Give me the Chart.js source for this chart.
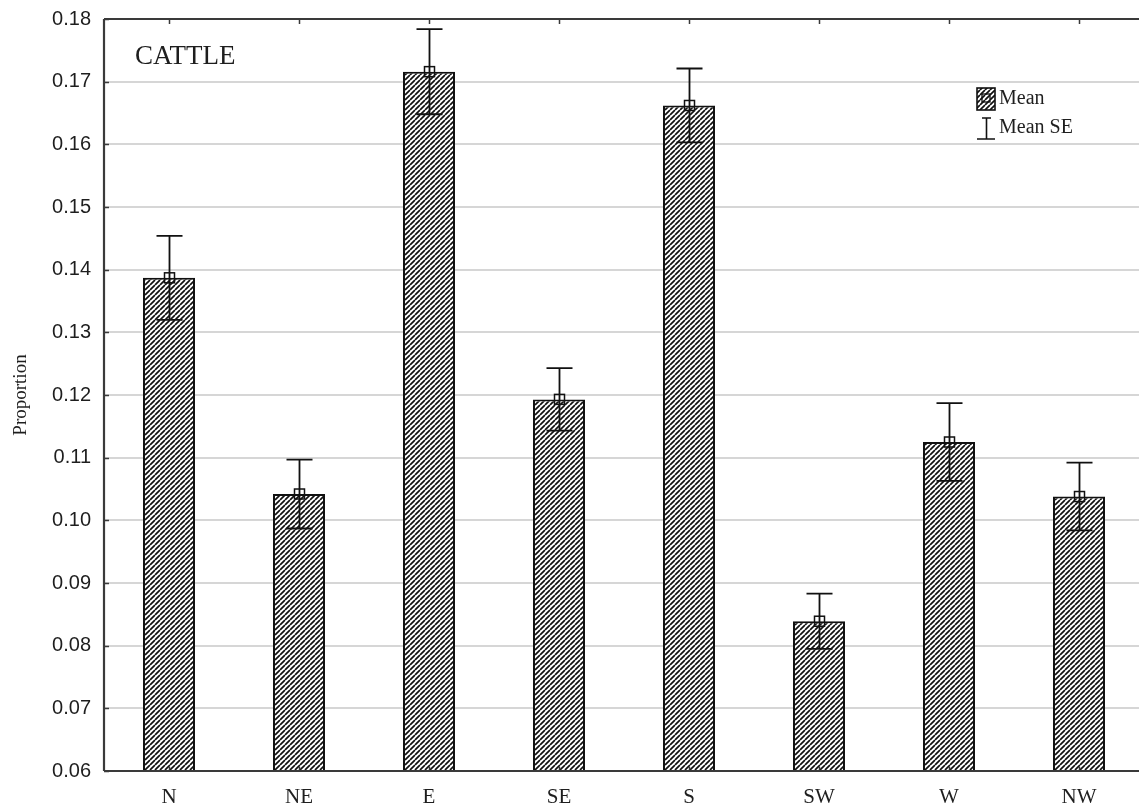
<!DOCTYPE html>
<html>
<head>
<meta charset="utf-8">
<title>CATTLE – Proportion by direction</title>
<script src="https://cdn.jsdelivr.net/npm/chart.js@4/dist/chart.umd.min.js"></script>
<style>
  html, body { margin: 0; padding: 0; background: #fff; overflow: hidden; }
  #wrap { position: absolute; left: 0; top: 0; width: 1150px; height: 809px; }
</style>
</head>
<body>
<div id="wrap"><canvas id="chart" width="1150" height="809"></canvas></div>
<script>
// Directions and mean proportions with their standard errors
const categories = ['N', 'NE', 'E', 'SE', 'S', 'SW', 'W', 'NW'];
const meanValues = [0.1387, 0.1042, 0.1716, 0.1193, 0.1662, 0.0839, 0.1125, 0.1038];
const seValues   = [0.0067, 0.0055, 0.0068, 0.0050, 0.0059, 0.0044, 0.0062, 0.0054];
const yTickValues = [0.06, 0.07, 0.08, 0.09, 0.10, 0.11, 0.12, 0.13, 0.14, 0.15, 0.16, 0.17, 0.18];

const SERIF = '"Liberation Serif", "Times New Roman", serif';
const SANS = '"Liberation Sans", Arial, sans-serif';
const INK = '#1e1e1e';
const FRAME = '#3a3a3a';

// Diagonal hatch fill for the bars
function makeHatch(size, lineW) {
  const c = document.createElement('canvas');
  c.width = size; c.height = size;
  const g = c.getContext('2d');
  g.fillStyle = '#ffffff';
  g.fillRect(0, 0, size, size);
  g.strokeStyle = '#111';
  g.lineWidth = lineW;
  g.beginPath();
  for (let k = -1; k <= 1; k++) {
    g.moveTo(k * size, size);
    g.lineTo(k * size + size, 0);
  }
  g.stroke();
  return g.createPattern(c, 'repeat');
}
const hatch = makeHatch(5, 1.7);

// Frame, inward tick marks, error bars, mean markers, title and legend
const decorations = {
  id: 'decorations',
  afterDatasetsDraw(chart) {
    const ctx = chart.ctx;
    const a = chart.chartArea;
    const xs = chart.scales.x, ys = chart.scales.y;
    ctx.save();

    // error bars and mean markers
    ctx.strokeStyle = '#111';
    meanValues.forEach((m, i) => {
      const x = Math.round(xs.getPixelForValue(i)) + 0.5;
      const yHi = ys.getPixelForValue(m + seValues[i]);
      const yLo = ys.getPixelForValue(m - seValues[i]);
      const yM = ys.getPixelForValue(m);
      const cap = 13;
      ctx.lineWidth = 1.8;
      ctx.beginPath();
      ctx.moveTo(x, yHi); ctx.lineTo(x, yLo);
      ctx.moveTo(x - cap, yHi); ctx.lineTo(x + cap, yHi);
      ctx.moveTo(x - cap, yLo); ctx.lineTo(x + cap, yLo);
      ctx.stroke();
      ctx.lineWidth = 1.5;
      ctx.strokeRect(x - 5, yM - 5, 10, 10);
    });

    // plot frame
    ctx.strokeStyle = FRAME;
    ctx.lineWidth = 2.2;
    ctx.beginPath();
    ctx.moveTo(a.left, a.top); ctx.lineTo(a.right, a.top);
    ctx.moveTo(a.left, a.top); ctx.lineTo(a.left, a.bottom);
    ctx.moveTo(a.left, a.bottom); ctx.lineTo(a.right, a.bottom);
    ctx.moveTo(a.right, a.top); ctx.lineTo(a.right, a.bottom);
    ctx.stroke();

    // inward ticks
    ctx.lineWidth = 1.5;
    ctx.beginPath();
    yTickValues.forEach(v => {
      const y = Math.round(ys.getPixelForValue(v)) + 0.5;
      ctx.moveTo(a.left, y); ctx.lineTo(a.left + 5, y);
    });
    categories.forEach((c, i) => {
      const x = Math.round(xs.getPixelForValue(i)) + 0.5;
      ctx.moveTo(x, a.top); ctx.lineTo(x, a.top + 5);
      ctx.moveTo(x, a.bottom); ctx.lineTo(x, a.bottom - 4);
    });
    ctx.stroke();

    // panel title
    ctx.fillStyle = INK;
    ctx.font = '27px ' + SERIF;
    ctx.textBaseline = 'alphabetic';
    ctx.textAlign = 'left';
    ctx.fillText('CATTLE', a.left + 31, a.top + 45);

    // legend
    const lx = 977, ly = 88;
    ctx.fillStyle = hatch;
    ctx.fillRect(lx, ly, 18, 22);
    ctx.strokeStyle = '#111';
    ctx.lineWidth = 1.6;
    ctx.strokeRect(lx, ly, 18, 22);
    ctx.lineWidth = 1.3;
    ctx.strokeRect(lx + 5, ly + 6, 8, 8);

    ctx.lineWidth = 1.6;
    ctx.beginPath();
    ctx.moveTo(lx + 9.5, ly + 30); ctx.lineTo(lx + 9.5, ly + 51);
    ctx.moveTo(lx + 5, ly + 30); ctx.lineTo(lx + 14, ly + 30);
    ctx.moveTo(lx, ly + 51); ctx.lineTo(lx + 18, ly + 51);
    ctx.stroke();

    ctx.fillStyle = INK;
    ctx.font = '20px ' + SERIF;
    ctx.textBaseline = 'middle';
    ctx.fillText('Mean', lx + 22, ly + 11);
    ctx.fillText('Mean SE', lx + 22, ly + 40);

    ctx.restore();
  }
};

new Chart(document.getElementById('chart'), {
  type: 'bar',
  data: {
    labels: categories,
    datasets: [{
      label: 'Mean',
      data: meanValues,
      backgroundColor: hatch,
      borderColor: '#111',
      borderWidth: 2,
      borderSkipped: false,
      categoryPercentage: 1.0,
      barPercentage: 0.4
    }]
  },
  options: {
    responsive: false,
    animation: false,
    devicePixelRatio: 1,
    layout: { padding: { top: 19, right: 6, left: 0, bottom: 0 } },
    plugins: {
      legend: { display: false },
      tooltip: { enabled: false }
    },
    scales: {
      x: {
        grid: { display: false, drawTicks: false },
        border: { display: false },
        ticks: {
          color: INK,
          font: { family: SERIF, size: 21 },
          padding: 14,
          maxRotation: 0
        },
        afterFit(scale) { scale.height = 38; }
      },
      y: {
        min: 0.06,
        max: 0.18,
        afterBuildTicks(scale) {
          scale.ticks = yTickValues.map(v => ({ value: v }));
        },
        grid: { color: '#d6d6d6', lineWidth: 2, drawTicks: false },
        border: { display: false },
        ticks: {
          color: INK,
          font: { family: SANS, size: 20 },
          padding: 13,
          callback: v => Number(v).toFixed(2)
        },
        title: {
          display: true,
          text: 'Proportion',
          color: INK,
          font: { family: SERIF, size: 19 },
          padding: { top: 10, bottom: 0 }
        },
        afterFit(scale) {
          scale.width = 104;
          scale.paddingTop = 0;
          scale.paddingBottom = 0;
        }
      }
    }
  },
  plugins: [decorations]
});
</script>
</body>
</html>
